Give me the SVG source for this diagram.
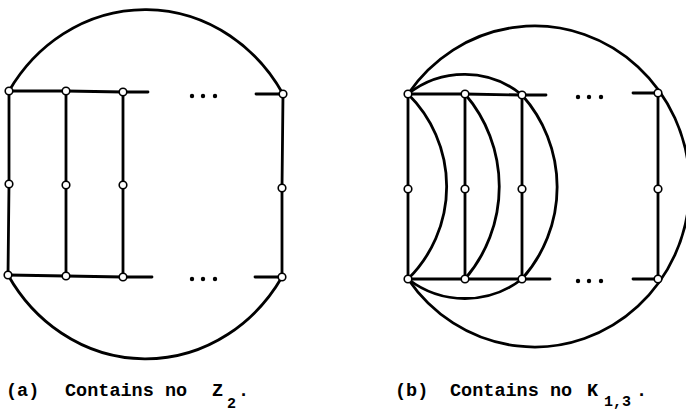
<svg xmlns="http://www.w3.org/2000/svg" width="686" height="419" viewBox="0 0 686 419">
<style>
.e{fill:none;stroke:#000;stroke-width:2.8;stroke-linecap:round}
.n{fill:#fff;stroke:#000;stroke-width:1.6}
.d{fill:#000}
.t{font-family:"Liberation Mono","DejaVu Sans Mono",monospace;font-size:18.5px;font-weight:bold;fill:#000}
.s{font-family:"Liberation Mono","DejaVu Sans Mono",monospace;font-size:15px;font-weight:bold;fill:#000}
</style>
<rect width="686" height="419" fill="#fff"/>
<g id="connectors">
  <!-- panel (a) -->
  <path class="e" d="M9,91 A161,174.5 0 0 1 283,94"/>
  <path class="e" d="M282,277 A161,174.5 0 0 1 8,275"/>
  <path class="e" d="M9,91 L66,91 L123,92 L148,92"/>
  <path class="e" d="M256,94 L283,94"/>
  <path class="e" d="M8,275 L66,276 L123,277 L152,277"/>
  <path class="e" d="M255,277 L282,277"/>
  <path class="e" d="M9,91 L9,184 L8,275"/>
  <path class="e" d="M66,91 L66,185 L66,276"/>
  <path class="e" d="M123,92 L123,185 L123,277"/>
  <path class="e" d="M283,94 L282,188 L282,277"/>
  <!-- panel (b) -->
  <path class="e" d="M408,94 A155,160.5 0 1 1 408,279"/>
  <path class="e" d="M408,94 A91,91 0 0 1 522,95"/>
  <path class="e" d="M522,279 A93,93 0 0 1 408,279"/>
  <path class="e" d="M408,94 A130,130 0 0 1 408,279"/>
  <path class="e" d="M465,94 A142,142 0 0 1 465,279"/>
  <path class="e" d="M522,95 A138,138 0 0 1 522,279"/>
  <path class="e" d="M408,94 L465,94 L522,95 L546,95"/>
  <path class="e" d="M633,93 L658,93"/>
  <path class="e" d="M408,279 L465,279 L522,279 L550,279"/>
  <path class="e" d="M633,279 L658,279"/>
  <path class="e" d="M408,94 L408,279"/>
  <path class="e" d="M465,94 L465,279"/>
  <path class="e" d="M522,95 L522,279"/>
  <path class="e" d="M658,93 L658,279"/>
</g>
<g id="ellipses">
  <circle class="d" cx="192" cy="96" r="2.2"/><circle class="d" cx="203" cy="96" r="2.2"/><circle class="d" cx="215" cy="96" r="2.2"/>
  <circle class="d" cx="192" cy="279" r="2.2"/><circle class="d" cx="203" cy="279" r="2.2"/><circle class="d" cx="215" cy="279" r="2.2"/>
  <circle class="d" cx="578" cy="97" r="2.2"/><circle class="d" cx="589" cy="97" r="2.2"/><circle class="d" cx="601" cy="97" r="2.2"/>
  <circle class="d" cx="578" cy="281" r="2.2"/><circle class="d" cx="589" cy="281" r="2.2"/><circle class="d" cx="601" cy="281" r="2.2"/>
</g>
<g id="a-t1"><circle class="n" cx="9" cy="91" r="3.8"/></g>
<g id="a-t2"><circle class="n" cx="66" cy="91" r="3.8"/></g>
<g id="a-t3"><circle class="n" cx="123" cy="92" r="3.8"/></g>
<g id="a-tn"><circle class="n" cx="283" cy="94" r="3.8"/></g>
<g id="a-m1"><circle class="n" cx="9" cy="184" r="3.8"/></g>
<g id="a-m2"><circle class="n" cx="66" cy="185" r="3.8"/></g>
<g id="a-m3"><circle class="n" cx="123" cy="185" r="3.8"/></g>
<g id="a-mn"><circle class="n" cx="282" cy="188" r="3.8"/></g>
<g id="a-b1"><circle class="n" cx="8" cy="275" r="3.8"/></g>
<g id="a-b2"><circle class="n" cx="66" cy="276" r="3.8"/></g>
<g id="a-b3"><circle class="n" cx="123" cy="277" r="3.8"/></g>
<g id="a-bn"><circle class="n" cx="282" cy="277" r="3.8"/></g>
<g id="b-t1"><circle class="n" cx="408" cy="94" r="3.8"/></g>
<g id="b-t2"><circle class="n" cx="465" cy="94" r="3.8"/></g>
<g id="b-t3"><circle class="n" cx="522" cy="95" r="3.8"/></g>
<g id="b-tn"><circle class="n" cx="658" cy="93" r="3.8"/></g>
<g id="b-m1"><circle class="n" cx="408" cy="189" r="3.8"/></g>
<g id="b-m2"><circle class="n" cx="465" cy="189" r="3.8"/></g>
<g id="b-m3"><circle class="n" cx="522" cy="189" r="3.8"/></g>
<g id="b-mn"><circle class="n" cx="658" cy="189" r="3.8"/></g>
<g id="b-b1"><circle class="n" cx="408" cy="279" r="3.8"/></g>
<g id="b-b2"><circle class="n" cx="465" cy="279" r="3.8"/></g>
<g id="b-b3"><circle class="n" cx="522" cy="279" r="3.8"/></g>
<g id="b-bn"><circle class="n" cx="658" cy="279" r="3.8"/></g>
<g id="caption-a">
  <text class="t" x="6" y="396">(a)</text>
  <text class="t" x="65" y="396">Contains no</text>
  <text class="t" x="212" y="396">Z</text>
  <text class="s" x="227" y="408">2</text>
  <text class="t" x="238" y="396">.</text>
</g>
<g id="caption-b">
  <text class="t" x="395" y="396">(b)</text>
  <text class="t" x="450" y="396">Contains no</text>
  <text class="t" x="587" y="396">K</text>
  <text class="s" x="604" y="406">1,3</text>
  <text class="t" x="636" y="396">.</text>
</g>
</svg>
